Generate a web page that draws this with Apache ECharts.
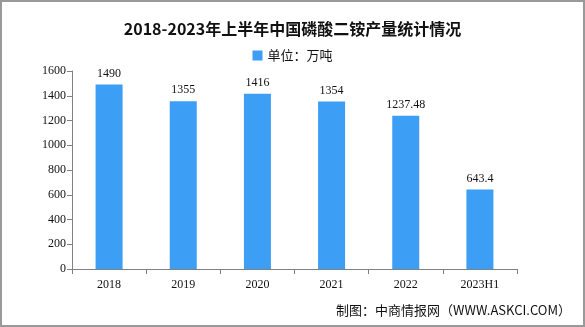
<!DOCTYPE html>
<html><head><meta charset="utf-8">
<script src="https://cdn.jsdelivr.net/npm/echarts@6/dist/echarts.min.js"></script>
<style>html,body{margin:0;padding:0;background:#fff}#c{width:585px;height:327px;box-sizing:border-box;border:2px solid #999;}</style>
</head><body><div id="c"></div>
<script>
const categories = ['2018','2019','2020','2021','2022','2023H1'];
const values = [1490, 1355, 1416, 1354, 1237.48, 643.4];
const valueLabels = ['1490','1355','1416','1354','1237.48','643.4'];
const yTicks = [0, 200, 400, 600, 800, 1000, 1200, 1400, 1600];

const chart = echarts.init(document.getElementById('c'));
const serif = '"Liberation Serif", "DejaVu Serif", serif';
chart.setOption({
  animation: false,
  title: {
    text: '2018-2023年上半年中国磷酸二铵产量统计情况',
    left: 'center', top: 14,
    textStyle: { fontFamily: '"Noto Sans CJK SC"', fontSize: 16, fontWeight: 'bold', color: '#111' }
  },
  legend: {
    data: ['单位：万吨'], top: 42, left: 'center',
    itemWidth: 10, itemHeight: 10, icon: 'rect',
    textStyle: { fontFamily: '"Noto Sans CJK SC"', fontSize: 13, color: '#111' }
  },
  grid: { left: 70, right: 66, top: 69, bottom: 56 },
  xAxis: {
    type: 'category', data: categories,
    axisLine: { lineStyle: { color: '#808080' } },
    axisTick: { show: true, alignWithLabel: false, length: 5, lineStyle: { color: '#808080' } },
    axisLabel: { fontFamily: serif, fontSize: 12, color: '#111', margin: 10 }
  },
  yAxis: {
    type: 'value', min: yTicks[0], max: yTicks[yTicks.length-1], interval: 200,
    axisLine: { show: true, lineStyle: { color: '#808080' } },
    axisTick: { show: true, length: 5, lineStyle: { color: '#808080' } },
    splitLine: { show: false },
    axisLabel: { fontFamily: serif, fontSize: 12, color: '#111', margin: 6, formatter: v => String(v) }
  },
  series: [{
    name: '单位：万吨', type: 'bar', data: values, barWidth: 27,
    itemStyle: { color: '#3d9ef5' },
    label: { show: true, position: 'top', distance: 5,
      formatter: p => valueLabels[p.dataIndex],
      fontFamily: serif, fontSize: 12, color: '#111' }
  }],
  graphic: [{
    type: 'text', right: 12, bottom: 8,
    style: { text: '制图：中商情报网（WWW.ASKCI.COM）', font: '13px "Noto Sans CJK SC"', fill: '#111' }
  }]
});
</script></body></html>
